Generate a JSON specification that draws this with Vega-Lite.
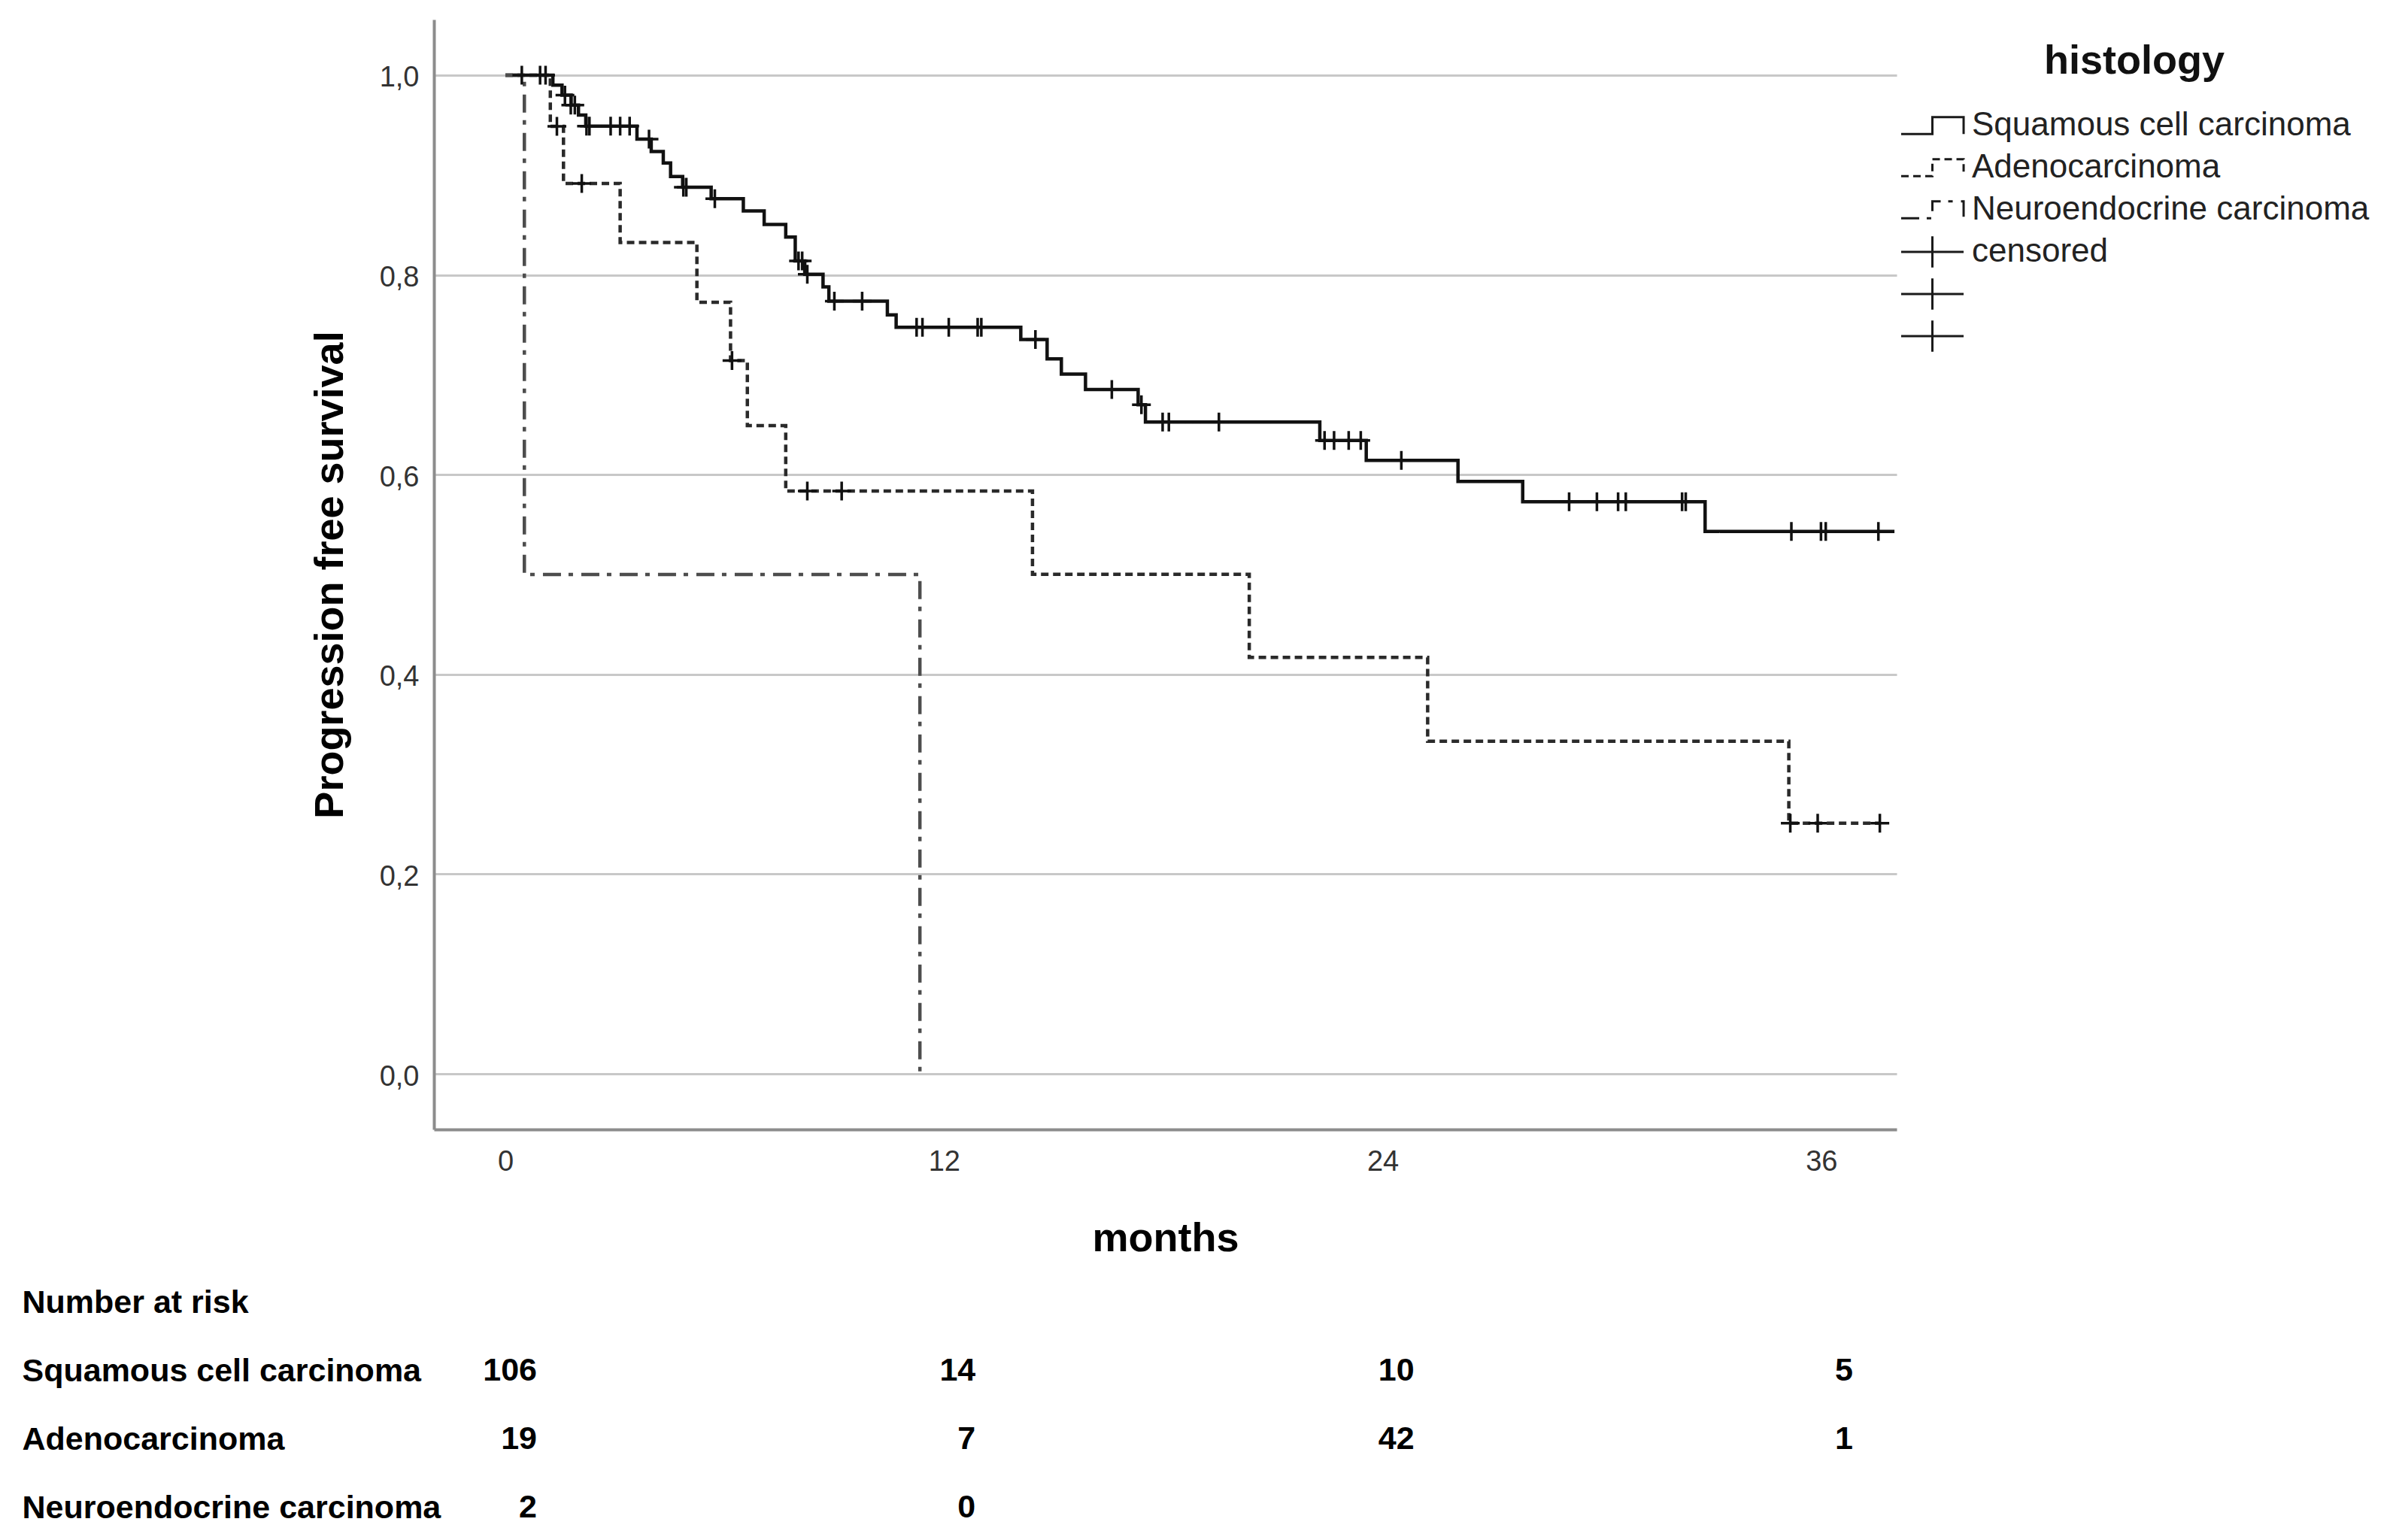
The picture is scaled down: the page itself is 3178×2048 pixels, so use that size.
{
  "$schema": "https://vega.github.io/schema/vega-lite/v6.json",
  "background": "white",
  "padding": {"left": 29, "top": 26, "right": 10, "bottom": 10},
  "config": {"view": {"stroke": null}, "font": "Liberation Sans"},
  "spacing": 230,
  "bounds": "flush",
  "datasets": {
    "curves": [
      {"group": "Squamous cell carcinoma", "month": 0, "surv": 1.0},
      {"group": "Squamous cell carcinoma", "month": 1.30, "surv": 0.990},
      {"group": "Squamous cell carcinoma", "month": 1.55, "surv": 0.980},
      {"group": "Squamous cell carcinoma", "month": 1.80, "surv": 0.970},
      {"group": "Squamous cell carcinoma", "month": 2.00, "surv": 0.960},
      {"group": "Squamous cell carcinoma", "month": 2.20, "surv": 0.949},
      {"group": "Squamous cell carcinoma", "month": 3.60, "surv": 0.936},
      {"group": "Squamous cell carcinoma", "month": 3.99, "surv": 0.9235},
      {"group": "Squamous cell carcinoma", "month": 4.32, "surv": 0.912},
      {"group": "Squamous cell carcinoma", "month": 4.52, "surv": 0.8986},
      {"group": "Squamous cell carcinoma", "month": 4.85, "surv": 0.8878},
      {"group": "Squamous cell carcinoma", "month": 5.63, "surv": 0.8763},
      {"group": "Squamous cell carcinoma", "month": 6.51, "surv": 0.864},
      {"group": "Squamous cell carcinoma", "month": 7.08, "surv": 0.8505},
      {"group": "Squamous cell carcinoma", "month": 7.67, "surv": 0.8379},
      {"group": "Squamous cell carcinoma", "month": 7.93, "surv": 0.814},
      {"group": "Squamous cell carcinoma", "month": 8.19, "surv": 0.8006},
      {"group": "Squamous cell carcinoma", "month": 8.69, "surv": 0.788},
      {"group": "Squamous cell carcinoma", "month": 8.85, "surv": 0.7737},
      {"group": "Squamous cell carcinoma", "month": 10.45, "surv": 0.760},
      {"group": "Squamous cell carcinoma", "month": 10.69, "surv": 0.7476},
      {"group": "Squamous cell carcinoma", "month": 14.10, "surv": 0.7353},
      {"group": "Squamous cell carcinoma", "month": 14.82, "surv": 0.716},
      {"group": "Squamous cell carcinoma", "month": 15.21, "surv": 0.7007},
      {"group": "Squamous cell carcinoma", "month": 15.87, "surv": 0.6853},
      {"group": "Squamous cell carcinoma", "month": 17.31, "surv": 0.670},
      {"group": "Squamous cell carcinoma", "month": 17.51, "surv": 0.6527},
      {"group": "Squamous cell carcinoma", "month": 22.28, "surv": 0.6343},
      {"group": "Squamous cell carcinoma", "month": 23.55, "surv": 0.6143},
      {"group": "Squamous cell carcinoma", "month": 26.06, "surv": 0.5932},
      {"group": "Squamous cell carcinoma", "month": 27.83, "surv": 0.5728},
      {"group": "Squamous cell carcinoma", "month": 32.82, "surv": 0.5432},
      {"group": "Squamous cell carcinoma", "month": 38.0, "surv": 0.5432},
      {"group": "Adenocarcinoma", "month": 0, "surv": 1.0},
      {"group": "Adenocarcinoma", "month": 1.23, "surv": 0.9488},
      {"group": "Adenocarcinoma", "month": 1.59, "surv": 0.8916},
      {"group": "Adenocarcinoma", "month": 3.14, "surv": 0.8325},
      {"group": "Adenocarcinoma", "month": 5.24, "surv": 0.7726},
      {"group": "Adenocarcinoma", "month": 6.16, "surv": 0.7142},
      {"group": "Adenocarcinoma", "month": 6.62, "surv": 0.649},
      {"group": "Adenocarcinoma", "month": 7.67, "surv": 0.5835},
      {"group": "Adenocarcinoma", "month": 14.42, "surv": 0.5002},
      {"group": "Adenocarcinoma", "month": 20.35, "surv": 0.4169},
      {"group": "Adenocarcinoma", "month": 25.23, "surv": 0.333},
      {"group": "Adenocarcinoma", "month": 35.11, "surv": 0.2509},
      {"group": "Adenocarcinoma", "month": 37.6, "surv": 0.2509},
      {"group": "Neuroendocrine carcinoma", "month": 0, "surv": 1.0},
      {"group": "Neuroendocrine carcinoma", "month": 0.52, "surv": 0.5},
      {"group": "Neuroendocrine carcinoma", "month": 11.34, "surv": 0.0}
    ],
    "censors": [
      {"group": "Squamous cell carcinoma", "month": 0.45, "surv": 1.0},
      {"group": "Squamous cell carcinoma", "month": 0.95, "surv": 1.0},
      {"group": "Squamous cell carcinoma", "month": 1.10, "surv": 1.0},
      {"group": "Squamous cell carcinoma", "month": 1.63, "surv": 0.980},
      {"group": "Squamous cell carcinoma", "month": 1.79, "surv": 0.970},
      {"group": "Squamous cell carcinoma", "month": 1.90, "surv": 0.970},
      {"group": "Squamous cell carcinoma", "month": 2.22, "surv": 0.949},
      {"group": "Squamous cell carcinoma", "month": 2.30, "surv": 0.949},
      {"group": "Squamous cell carcinoma", "month": 2.88, "surv": 0.949},
      {"group": "Squamous cell carcinoma", "month": 3.14, "surv": 0.949},
      {"group": "Squamous cell carcinoma", "month": 3.40, "surv": 0.949},
      {"group": "Squamous cell carcinoma", "month": 3.93, "surv": 0.936},
      {"group": "Squamous cell carcinoma", "month": 4.87, "surv": 0.8878},
      {"group": "Squamous cell carcinoma", "month": 4.95, "surv": 0.8878},
      {"group": "Squamous cell carcinoma", "month": 5.73, "surv": 0.8763},
      {"group": "Squamous cell carcinoma", "month": 8.02, "surv": 0.814},
      {"group": "Squamous cell carcinoma", "month": 8.12, "surv": 0.814},
      {"group": "Squamous cell carcinoma", "month": 8.26, "surv": 0.8006},
      {"group": "Squamous cell carcinoma", "month": 9.00, "surv": 0.7737},
      {"group": "Squamous cell carcinoma", "month": 9.76, "surv": 0.7737},
      {"group": "Squamous cell carcinoma", "month": 11.25, "surv": 0.7476},
      {"group": "Squamous cell carcinoma", "month": 11.41, "surv": 0.7476},
      {"group": "Squamous cell carcinoma", "month": 12.13, "surv": 0.7476},
      {"group": "Squamous cell carcinoma", "month": 12.92, "surv": 0.7476},
      {"group": "Squamous cell carcinoma", "month": 13.02, "surv": 0.7476},
      {"group": "Squamous cell carcinoma", "month": 14.50, "surv": 0.7353},
      {"group": "Squamous cell carcinoma", "month": 16.59, "surv": 0.6853},
      {"group": "Squamous cell carcinoma", "month": 17.40, "surv": 0.670},
      {"group": "Squamous cell carcinoma", "month": 17.98, "surv": 0.6527},
      {"group": "Squamous cell carcinoma", "month": 18.15, "surv": 0.6527},
      {"group": "Squamous cell carcinoma", "month": 19.52, "surv": 0.6527},
      {"group": "Squamous cell carcinoma", "month": 22.41, "surv": 0.6343},
      {"group": "Squamous cell carcinoma", "month": 22.67, "surv": 0.6343},
      {"group": "Squamous cell carcinoma", "month": 23.07, "surv": 0.6343},
      {"group": "Squamous cell carcinoma", "month": 23.40, "surv": 0.6343},
      {"group": "Squamous cell carcinoma", "month": 24.51, "surv": 0.6143},
      {"group": "Squamous cell carcinoma", "month": 29.10, "surv": 0.5728},
      {"group": "Squamous cell carcinoma", "month": 29.86, "surv": 0.5728},
      {"group": "Squamous cell carcinoma", "month": 30.44, "surv": 0.5728},
      {"group": "Squamous cell carcinoma", "month": 30.65, "surv": 0.5728},
      {"group": "Squamous cell carcinoma", "month": 32.19, "surv": 0.5728},
      {"group": "Squamous cell carcinoma", "month": 32.29, "surv": 0.5728},
      {"group": "Squamous cell carcinoma", "month": 35.18, "surv": 0.5432},
      {"group": "Squamous cell carcinoma", "month": 35.99, "surv": 0.5432},
      {"group": "Squamous cell carcinoma", "month": 36.12, "surv": 0.5432},
      {"group": "Squamous cell carcinoma", "month": 37.56, "surv": 0.5432},
      {"group": "Adenocarcinoma", "month": 1.41, "surv": 0.9488},
      {"group": "Adenocarcinoma", "month": 2.09, "surv": 0.8916},
      {"group": "Adenocarcinoma", "month": 6.20, "surv": 0.7142},
      {"group": "Adenocarcinoma", "month": 8.26, "surv": 0.5835},
      {"group": "Adenocarcinoma", "month": 9.20, "surv": 0.5835},
      {"group": "Adenocarcinoma", "month": 35.15, "surv": 0.2509},
      {"group": "Adenocarcinoma", "month": 35.90, "surv": 0.2509},
      {"group": "Adenocarcinoma", "month": 37.60, "surv": 0.2509}
    ],
    "risk": [
      {"group": "Squamous cell carcinoma", "month": 0, "n": 106},
      {"group": "Squamous cell carcinoma", "month": 12, "n": 14},
      {"group": "Squamous cell carcinoma", "month": 24, "n": 10},
      {"group": "Squamous cell carcinoma", "month": 36, "n": 5},
      {"group": "Adenocarcinoma", "month": 0, "n": 19},
      {"group": "Adenocarcinoma", "month": 12, "n": 7},
      {"group": "Adenocarcinoma", "month": 24, "n": 42},
      {"group": "Adenocarcinoma", "month": 36, "n": 1},
      {"group": "Neuroendocrine carcinoma", "month": 0, "n": 2},
      {"group": "Neuroendocrine carcinoma", "month": 12, "n": 0}
    ]
  },
  "vconcat": [
    {
      "width": 1945,
      "height": 1476,
      "layer": [
        {
          "data": {"name": "curves"},
          "mark": {"type": "line", "interpolate": "step-after", "strokeWidth": 4.5},
          "encoding": {
            "x": {
              "field": "month", "type": "quantitative",
              "scale": {"domain": [-1.954, 38.06], "nice": false, "zero": false},
              "axis": {
                "values": [0, 12, 24, 36], "format": "d", "grid": false, "ticks": false, "tickSize": 0,
                "domainColor": "#8c8c8c", "domainWidth": 4,
                "labelFont": "Liberation Sans", "labelFontSize": 38, "labelColor": "#333333", "labelPadding": 24,
                "title": "months", "titleFont": "Liberation Sans", "titleFontSize": 54, "titleFontWeight": "bold",
                "titleColor": "#000000", "titlePadding": 56
              }
            },
            "y": {
              "field": "surv", "type": "quantitative",
              "scale": {"domain": [-0.0557, 1.0557], "nice": false, "zero": false},
              "axis": {
                "values": [0, 0.2, 0.4, 0.6, 0.8, 1.0],
                "labelExpr": "replace(format(datum.value, '.1f'), '.', ',')",
                "grid": true, "gridColor": "#c8c8c8", "gridWidth": 3,
                "ticks": false, "tickSize": 0,
                "domainColor": "#8c8c8c", "domainWidth": 4,
                "labelFont": "Liberation Sans", "labelFontSize": 38, "labelColor": "#333333", "labelPadding": 20,
                "labelOffset": 4,
                "title": "Progression free survival", "titleFont": "Liberation Sans", "titleFontSize": 54,
                "titleFontWeight": "bold", "titleColor": "#000000", "titlePadding": 38
              }
            },
            "strokeDash": {
              "field": "group", "type": "nominal",
              "scale": {
                "domain": ["Squamous cell carcinoma", "Adenocarcinoma", "Neuroendocrine carcinoma", "censored", "censored_2", "censored_3"],
                "range": [[1, 0], [10, 6], [24, 10, 6, 11], [1, 0], [1, 0], [1, 0]]
              },
              "legend": {
                "title": "histology", "orient": "none", "legendX": 1949, "legendY": 29, "padding": 0,
                "titleFont": "Liberation Sans", "titleFontSize": 54, "titleFontWeight": "bold", "titleColor": "#111111",
                "titleAnchor": "middle", "titlePadding": 35, "titleLimit": 2000,
                "labelFont": "Liberation Sans", "labelFontSize": 44, "labelColor": "#222222", "labelLimit": 2000, "labelOffset": 9,
                "labelExpr": "indexof(datum.label, 'censored_') == 0 ? '' : datum.label",
                "symbolSize": 6900, "symbolStrokeWidth": 3, "clipHeight": 46, "rowPadding": 10,
                "encode": {
                  "symbols": {
                    "update": {
                      "shape": {"signal": "indexof(datum.value, 'censored') == 0 ? 'M-1,0L1,0M0,-0.5L0,0.5' : 'M-1,0.27L0,0.27L0,-0.27L1,-0.27L1,0.27'"},
                      "fill": {"value": "transparent"},
                      "stroke": {"value": "#1a1a1a"},
                      "strokeWidth": {"value": 3},
                      "opacity": {"value": 1}
                    }
                  }
                }
              }
            },
            "color": {
              "field": "group", "type": "nominal",
              "scale": {"domain": ["Squamous cell carcinoma", "Adenocarcinoma", "Neuroendocrine carcinoma"], "range": ["#111111", "#2a2a2a", "#4d4d4d"]},
              "legend": null
            }
          }
        },
        {
          "data": {"name": "censors"},
          "mark": {"type": "point", "shape": "M-1,0L1,0M0,-1L0,1", "size": 625, "filled": false, "stroke": "#111111", "strokeWidth": 3.5, "opacity": 1},
          "encoding": {
            "x": {"field": "month", "type": "quantitative"},
            "y": {"field": "surv", "type": "quantitative"}
          }
        }
      ]
    },
    {
      "width": 1945,
      "height": 273,
      "data": {"name": "risk"},
      "mark": {"type": "text", "align": "right", "baseline": "middle", "dx": 42, "font": "Liberation Sans", "fontSize": 43, "fontWeight": "bold", "color": "#000000"},
      "encoding": {
        "x": {"field": "month", "type": "quantitative", "scale": {"domain": [-1.954, 38.06], "nice": false, "zero": false}, "axis": null},
        "y": {
          "field": "group", "type": "nominal",
          "scale": {"type": "point", "domain": ["Number at risk", "Squamous cell carcinoma", "Adenocarcinoma", "Neuroendocrine carcinoma"], "padding": 0},
          "axis": {
            "title": null, "domain": false, "ticks": false, "tickSize": 0, "grid": false,
            "labelAlign": "left", "labelBaseline": "middle", "labelPadding": 548,
            "labelFont": "Liberation Sans", "labelFontSize": 43, "labelFontWeight": "bold", "labelColor": "#000000", "labelLimit": 2000
          }
        },
        "text": {"field": "n", "type": "quantitative"}
      }
    }
  ]
}
